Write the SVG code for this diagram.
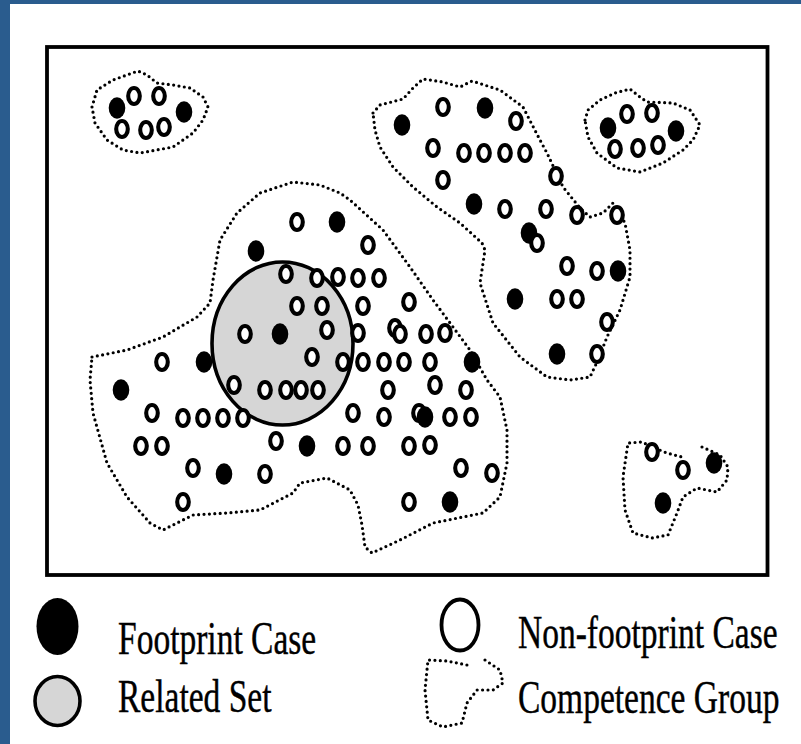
<svg xmlns="http://www.w3.org/2000/svg" xmlns:xlink="http://www.w3.org/1999/xlink" width="801" height="744" viewBox="0 0 801 744">
<style>
.frame{fill:none;stroke:#000;stroke-width:3.8}
.grp{fill:none;stroke:#000;stroke-width:3.2;stroke-linecap:round;stroke-linejoin:round;stroke-dasharray:0 5.4}
.o{fill:#fff;stroke:#000;stroke-width:4.1}
.f{fill:#000}
.rs{fill:#d6d6d6;stroke:#000;stroke-width:3.6}
.lbl{font-family:"Liberation Serif","Times New Roman",serif;font-size:33.5px;fill:#000;stroke:#000;stroke-width:0.3}
</style>
<defs>
<ellipse id="oc" class="o" cx="0" cy="0" rx="5.8" ry="8"/>
<ellipse id="fc" class="f" cx="0" cy="0" rx="8.3" ry="10.7"/>
</defs>
<rect x="0" y="0" width="801" height="744" fill="#fff"/>
<rect x="0" y="0" width="10" height="744" fill="#2a5c8e"/>
<rect x="0" y="0" width="801" height="4" fill="#2a5c8e"/>
<rect class="frame" x="47" y="47" width="720.5" height="528"/>

<g id="connectors">
<path id="grp-tl" class="grp" d="M92,107 L97,90 L113,80 L138,71 L147,75 L157,83 L173,85 L190,88 L203,97 L208,107 L203,120 L193,133 L173,147 L140,153 L123,150 L107,140 L95,123 Z"/>
<path id="grp-tr" class="grp" d="M585,120 L588,110 L600,100 L615,93 L630,89 L640,97 L647,102 L673,103 L690,110 L700,125 L693,140 L683,150 L663,163 L640,172 L617,168 L597,153 L588,137 Z"/>
<path id="grp-r" class="grp" d="M373,113 L380,105 L403,99 L413,88 L423,79 L443,82 L460,87 L472,81 L500,90 L523,107 L540,140 L547,153 L563,187 L580,208 L590,217 L603,213 L613,203 L625,223 L630,250 L630,277 L620,310 L607,337 L598,360 L590,377 L570,380 L547,377 L520,357 L493,323 L480,283 L485,250 L482,243 L460,223 L437,207 L413,187 L393,167 L380,147 L375,130 Z"/>
<path id="grp-l" class="grp" d="M92,357 L127,350 L163,337 L197,317 L210,303 L213,280 L220,240 L237,213 L260,193 L293,182 L320,185 L340,193 L350,200 L383,230 L410,267 L433,300 L453,327 L470,350 L487,380 L500,397 L507,430 L507,463 L500,497 L483,513 L433,523 L400,540 L372,553 L365,547 L362,525 L358,505 L350,490 L327,478 L300,483 L293,493 L260,510 L227,513 L193,515 L163,530 L150,523 L127,497 L107,463 L93,413 L90,380 Z"/>
<path id="grp-br" class="grp" d="M702,447 L720,455 L728,467 L727,480 L717,492 L697,488 L683,497 L677,513 L668,535 L652,538 L633,533 L625,510 L623,477 L628,443 L642,442 L652,447 L667,453 L682,457"/>
</g>

<g id="group-top-left">
<use href="#fc" x="117" y="108"/><use href="#fc" x="184" y="112"/>
<use href="#oc" x="134" y="96"/><use href="#oc" x="159" y="96"/>
<use href="#oc" x="122" y="129"/><use href="#oc" x="146" y="130"/><use href="#oc" x="164" y="127"/>
</g>

<g id="group-top-right">
<use href="#fc" x="608" y="128"/><use href="#fc" x="676" y="131"/>
<use href="#oc" x="627" y="114"/><use href="#oc" x="652" y="113"/>
<use href="#oc" x="615" y="149"/><use href="#oc" x="638" y="148"/><use href="#oc" x="658" y="145"/>
</g>

<g id="group-right">
<use href="#fc" x="402" y="125"/><use href="#fc" x="485" y="108"/><use href="#fc" x="474" y="204"/>
<use href="#fc" x="529" y="233"/><use href="#fc" x="618" y="271"/><use href="#fc" x="515" y="299"/>
<use href="#fc" x="557" y="354"/>
<use href="#oc" x="443" y="107"/><use href="#oc" x="516" y="121"/>
<use href="#oc" x="433" y="148"/><use href="#oc" x="464" y="153"/><use href="#oc" x="484" y="153"/>
<use href="#oc" x="505" y="153"/><use href="#oc" x="525" y="153"/>
<use href="#oc" x="443" y="180"/><use href="#oc" x="556" y="176"/>
<use href="#oc" x="505" y="209"/><use href="#oc" x="546" y="209"/><use href="#oc" x="577" y="215"/><use href="#oc" x="617" y="215"/>
<use href="#oc" x="537" y="243"/>
<use href="#oc" x="567" y="266"/><use href="#oc" x="597" y="271"/>
<use href="#oc" x="557" y="299"/><use href="#oc" x="577" y="299"/>
<use href="#oc" x="607" y="322"/><use href="#oc" x="597" y="354"/>
</g>

<g id="group-left">
<ellipse id="related-set" class="rs" cx="282.5" cy="343.5" rx="70.5" ry="81.5"/>
<use href="#fc" x="337" y="222"/><use href="#fc" x="256" y="251"/><use href="#fc" x="280" y="334"/>
<use href="#fc" x="204" y="362"/><use href="#fc" x="472" y="362"/><use href="#fc" x="121" y="390"/>
<use href="#fc" x="307" y="446"/><use href="#fc" x="224" y="474"/><use href="#fc" x="450" y="502"/>
<use href="#oc" x="297" y="222"/><use href="#oc" x="368" y="245"/>
<use href="#oc" x="286" y="274"/><use href="#oc" x="317" y="278"/><use href="#oc" x="338" y="277"/><use href="#oc" x="358" y="278"/><use href="#oc" x="379" y="278"/>
<use href="#oc" x="297" y="306"/><use href="#oc" x="322" y="306"/><use href="#oc" x="363" y="306"/><use href="#oc" x="409" y="302"/>
<use href="#oc" x="245" y="334"/><use href="#oc" x="327" y="330"/><use href="#oc" x="358" y="333"/><use href="#oc" x="395" y="328"/><use href="#oc" x="400" y="334"/><use href="#oc" x="426" y="334"/><use href="#oc" x="445" y="333"/>
<use href="#oc" x="162" y="362"/><use href="#oc" x="312" y="357"/><use href="#oc" x="343" y="362"/><use href="#oc" x="363" y="362"/><use href="#oc" x="384" y="362"/><use href="#oc" x="404" y="362"/><use href="#oc" x="430" y="362"/>
<use href="#oc" x="234" y="385"/><use href="#oc" x="265" y="390"/><use href="#oc" x="286" y="390"/><use href="#oc" x="301" y="390"/><use href="#oc" x="318" y="390"/><use href="#oc" x="388" y="390"/><use href="#oc" x="435" y="385"/><use href="#oc" x="466" y="390"/>
<use href="#oc" x="152" y="413"/><use href="#oc" x="183" y="418"/><use href="#oc" x="203" y="418"/><use href="#oc" x="223" y="418"/><use href="#oc" x="243" y="418"/>
<use href="#oc" x="353" y="413"/><use href="#oc" x="384" y="417"/><use href="#oc" x="419" y="413"/><use href="#oc" x="450" y="417"/><use href="#oc" x="471" y="417"/>
<use href="#fc" x="425" y="417"/>
<use href="#oc" x="141" y="446"/><use href="#oc" x="162" y="446"/><use href="#oc" x="276" y="441"/><use href="#oc" x="343" y="446"/><use href="#oc" x="368" y="446"/><use href="#oc" x="409" y="446"/><use href="#oc" x="430" y="445"/>
<use href="#oc" x="193" y="468"/><use href="#oc" x="265" y="474"/><use href="#oc" x="461" y="468"/><use href="#oc" x="492" y="473"/>
<use href="#oc" x="183" y="502"/><use href="#oc" x="409" y="502"/>
</g>

<g id="group-bottom-right">
<use href="#fc" x="714" y="463"/><use href="#fc" x="663" y="503"/>
<use href="#oc" x="652" y="452"/><use href="#oc" x="683" y="470"/>
</g>

<g id="legend">
<g id="legend-footprint">
<ellipse class="f" cx="57.5" cy="626.5" rx="21" ry="28.5"/>
<text class="lbl" transform="translate(118,654) scale(1,1.4)">Footprint Case</text>
</g>
<g id="legend-related">
<ellipse class="rs" cx="57.5" cy="701" rx="22.5" ry="24.5"/>
<text class="lbl" transform="translate(118,712) scale(1,1.4)">Related Set</text>
</g>
<g id="legend-nonfootprint">
<ellipse fill="none" stroke="#000" stroke-width="3.8" cx="460" cy="625" rx="18.5" ry="25.5"/>
<text class="lbl" transform="translate(518,648) scale(1,1.4)">Non-footprint Case</text>
</g>
<g id="legend-competence">
<path class="grp" d="M485,660 L500,670 L503,683 L493,690 L477,690 L467,703 L462,723 L443,727 L428,720 L425,690 L428,660 L447,661 L467,665"/>
<text class="lbl" transform="translate(518,713) scale(1,1.4)">Competence Group</text>
</g>
</g>
</svg>
